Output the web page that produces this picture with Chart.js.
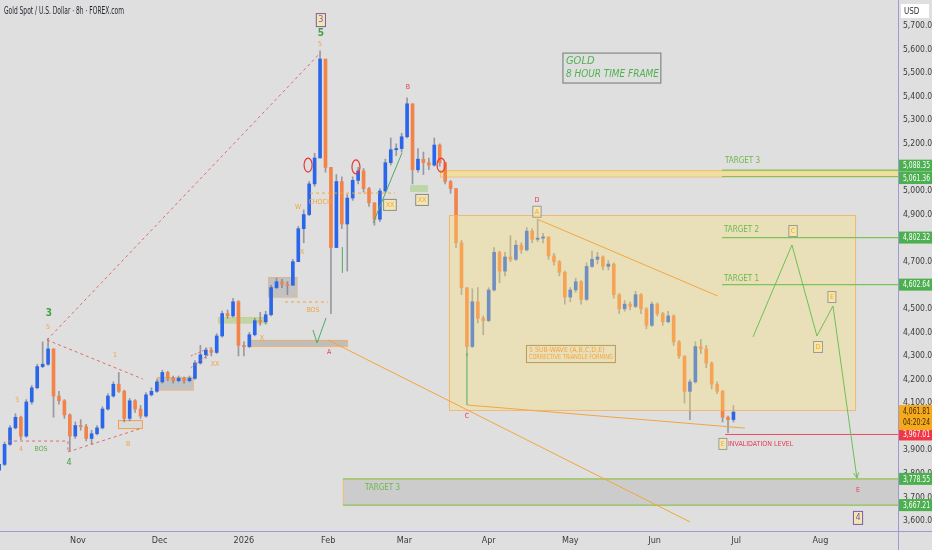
<!DOCTYPE html>
<html>
<head>
<meta charset="utf-8">
<script src="https://cdn.jsdelivr.net/npm/chart.js@4.4.1/dist/chart.umd.min.js"></script>
<style>
html, body { margin: 0; padding: 0; background: #dfdfdf; }
#wrap { width: 932px; height: 550px; }
</style>
</head>
<body>
<div id="wrap"><canvas id="gold" width="932" height="550"></canvas></div>
<script>
// Gold spot 8h. x = days since 1 Oct 2025, one candle per 2 days
const days = [2,4,6,8,10,12,14,16,18,20,22,24,26,28,30,32,34,36,38,40,42,44,46,48,50,52,54,56,58,60,
  62,64,66,68,70,72,74,76,78,80,82,84,86,88,90,92,94,96,98,100,102,104,106,108,110,112,114,116,118,120,
  122,124,126,128,130,132,134,136,138,140,142,144,146,148,150,152,154,156,158,160,162,164,166,168,170,172,174,176,178,180,
  182,184,186,188,190,192,194,196,198,200,202,204,206,208,210,212,214,216,218,220,222,224,226,228,230,232,234,236,238,240,
  242,244,246,248,250,252,254,256,258,260,262,264,266,268,270,272];
const firstOpen = 3815;
const closes = [3840,3925,3995,4040,3960,4105,4165,4255,4265,4330,4130,4110,4050,3960,4005,4000,3950,3970,3995,4075,
  4130,4180,4150,4035,4110,4075,4045,4135,4150,4190,4230,4205,4195,4205,4195,4205,4270,4305,4325,4315,
  4385,4480,4470,4530,4345,4340,4390,4450,4445,4475,4590,4615,4605,4600,4700,4840,4900,5030,5140,5560,
  5100,4760,5040,4860,4970,5045,5085,5010,4950,4880,5000,5120,5175,5180,5230,5370,5090,5135,5120,5110,
  5195,5120,5040,5010,4780,4590,4340,4530,4460,4450,4580,4740,4660,4720,4710,4770,4750,4830,4795,4800,
  4805,4725,4700,4655,4550,4580,4615,4540,4680,4710,4720,4680,4690,4560,4500,4520,4510,4560,4500,4430,
  4520,4480,4445,4470,4360,4300,4150,4190,4340,4330,4270,4180,4150,4040,4030,4062];
const highs = [3860,3935,4005,4055,4045,4115,4175,4265,4360,4375,4330,4150,4115,4055,4020,4030,4010,3985,4005,4085,
  4140,4190,4230,4155,4120,4115,4090,4145,4165,4200,4240,4235,4215,4215,4210,4215,4280,4345,4335,4335,
  4395,4490,4495,4545,4535,4360,4400,4460,4485,4490,4600,4630,4625,4615,4710,4850,4920,5040,5160,5595,
  5540,5100,5070,5060,4985,5060,5100,5095,5015,4950,5010,5135,5225,5200,5245,5395,5370,5180,5165,5140,
  5225,5200,5120,5045,5010,4790,4590,4585,4590,4470,4590,4760,4745,4740,4810,4790,4780,4845,4840,4880,
  4820,4805,4735,4705,4660,4590,4630,4620,4695,4745,4740,4725,4705,4695,4565,4535,4530,4575,4565,4505,
  4530,4525,4485,4490,4475,4365,4300,4200,4360,4370,4345,4275,4190,4155,4045,4090];
const lows = [3800,3835,3920,3990,3945,3955,4095,4160,4250,4260,4040,4095,4035,3895,3950,3985,3940,3925,3965,3990,
  4070,4125,4145,4020,4025,4060,4035,4040,4130,4145,4185,4195,4185,4190,4185,4190,4200,4265,4290,4300,
  4310,4380,4460,4465,4300,4300,4335,4385,4430,4435,4470,4585,4590,4560,4600,4700,4780,4895,5020,5140,
  5080,4480,4760,4840,4660,4960,5030,4995,4935,4855,4870,4995,5110,5150,5165,5225,5030,5080,5070,5090,
  5105,5105,5030,4990,4760,4560,4300,4335,4440,4390,4445,4575,4610,4640,4700,4705,4735,4745,4780,4785,
  4780,4710,4685,4640,4520,4530,4570,4520,4535,4675,4690,4665,4665,4545,4480,4490,4495,4505,4480,4415,
  4425,4470,4430,4440,4345,4290,4100,4030,4185,4310,4250,4160,4140,4020,3975,4020];

const monthTicks = [31, 61, 92, 123, 151, 182, 212, 243, 273, 304];
const monthLabels = ['Nov', 'Dec', '2026', 'Feb', 'Mar', 'Apr', 'May', 'Jun', 'Jul', 'Aug'];
const priceTicks = [3600,3700,3800,3900,4000,4100,4200,4300,4400,4500,4600,4700,4800,4900,5000,5100,5200,5300,5400,5500,5600,5700];

// price levels shown in the right scale
const levelPrices = [5088.35, 5061.36, 4802.32, 4602.64, 3967.01, 3778.55, 3667.21];
const lastPrice = 4061.81;
const countdown = '04:20:24';

const FONT = "'Liberation Sans Narrow', 'DejaVu Sans Condensed', 'Liberation Sans', sans-serif";
const UP = '#2a66ea', DOWN = '#f2844a', WICK = 'rgba(105,105,120,0.6)';
const ORANGE = '#f3a43e', RED = '#e53950', GREEN = '#6cbf55', PURPLE = '#7d5aa6';

const opens = closes.map((c, i) => i === 0 ? firstOpen : closes[i - 1]);
const colors = closes.map((c, i) => c >= opens[i] ? UP : DOWN);

// drawings, in chart units (day, price)
const zonesBelow = [
  [60.0, 4211, 73.3, 4156, 'rgba(140,140,140,0.35)', 'rgba(240,170,90,0.6)'],
  [45.7, 4028, 54.5, 3994, 'rgba(200,200,200,0.2)', '#f0a050'],
  [82.5, 4465, 100.5, 4440, 'rgba(160,205,120,0.55)', 'rgba(240,190,100,0.5)'],
  [100.9, 4635, 111.5, 4550, 'rgba(140,140,140,0.35)', 'rgba(240,170,90,0.5)'],
  [94.2, 4368, 129.9, 4342, 'rgba(150,150,150,0.45)', 'rgba(245,170,80,0.8)'],
  [153.1, 5025, 159.7, 4996, 'rgba(160,205,120,0.55)', null],
  [164.1, 5088.35, 345, 5061.36, 'rgba(255,220,110,0.55)', 'rgba(245,180,90,0.7)'],
  [128.4, 3778.55, 345, 3667.21, 'rgba(185,185,185,0.5)', 'rgba(245,190,100,0.8)']
];
const triangleBox = [167.4, 4898, 316.7, 4071, 'rgba(255,228,110,0.33)', 'rgba(245,175,90,0.8)'];

const lines = [
  { pts: [267.8, 5088.35, 345, 5088.35], color: '#7cc35a', width: 1.2 },
  { pts: [267.8, 5061.36, 345, 5061.36], color: '#7cc35a', width: 1.2 },
  { pts: [267.8, 4802.32, 345, 4802.32], color: '#7cc35a', width: 1.2 },
  { pts: [267.8, 4602.64, 345, 4602.64], color: '#7cc35a', width: 1.2 },
  { pts: [128.4, 3778.55, 345, 3778.55], color: '#8cc56a', width: 1.2 },
  { pts: [128.4, 3667.21, 345, 3667.21], color: '#8cc56a', width: 1.2 },
  { pts: [268.9, 3967.01, 345, 3967.01], color: '#f04a5a', width: 1 },
  { pts: [122.9, 4368, 256.0, 3596], color: ORANGE, width: 1 },
  { pts: [199.75, 4881, 266.3, 4554], color: ORANGE, width: 1 },
  { pts: [174.0, 4092, 276.2, 3994], color: ORANGE, width: 1 },
  { pts: [19.6, 4368, 120.0, 5585], color: '#e06a6a', width: 1, dash: [3, 3] },
  { pts: [19.6, 4368, 54.9, 4202], color: '#e06a6a', width: 1, dash: [3, 3] },
  { pts: [27.3, 3893, 54.5, 3994], color: '#e06a6a', width: 1, dash: [3, 3] },
  { pts: [5.3, 3939, 27.3, 3939, 27.3, 3893], color: '#e06a6a', width: 1, dash: [3, 3] },
  { pts: [72.5, 4300, 79.5, 4335], color: '#e06a6a', width: 1, dash: [2, 2] },
  { pts: [72.5, 4250, 79.5, 4310], color: '#e06a6a', width: 1, dash: [2, 2] },
  { pts: [107.1, 4529, 122.9, 4529], color: ORANGE, width: 1, dash: [3, 3] },
  { pts: [116.3, 4991, 147.5, 4991], color: ORANGE, width: 1, dash: [3, 3] },
  { pts: [139.5, 4864, 150.1, 5161], color: '#4fa86a', width: 1 },
  { pts: [117.4, 4410, 118.9, 4355, 122.2, 4461], color: '#4fa86a', width: 1 },
  { pts: [128.2, 4762, 128.2, 4652], color: '#4fa86a', width: 1 },
  { pts: [174.0, 4313, 174.0, 4092], color: '#4fa86a', width: 1 },
  { pts: [279.2, 4381, 293.5, 4771, 302.7, 4385, 308.6, 4512, 317.4, 3782], color: GREEN, width: 1, arrow: true }
];
const ellipses = [[115.6, 5110], [133.2, 5102], [164.5, 5110]];

const labels = [
  { t: '3', d: 120.3, p: 5725, color: PURPLE, size: 9, frame: PURPLE },
  { t: '5', d: 120.3, p: 5670, color: '#43a047', size: 10, bold: true },
  { t: '5', d: 120.0, p: 5624, color: ORANGE, size: 7 },
  { t: 'B', d: 152.3, p: 5441, color: RED, size: 7 },
  { t: 'A', d: 123.3, p: 4317, color: RED, size: 7 },
  { t: 'D', d: 199.75, p: 4962, color: RED, size: 7 },
  { t: 'A', d: 199.75, p: 4912, color: ORANGE, size: 7, frame: '#9a9a9a' },
  { t: 'C', d: 174.0, p: 4045, color: RED, size: 7 },
  { t: 'E', d: 317.8, p: 3731, color: RED, size: 7 },
  { t: '4', d: 317.8, p: 3613, color: PURPLE, size: 9, frame: PURPLE },
  { t: '3', d: 20.3, p: 4482, color: '#43a047', size: 10, bold: true },
  { t: '5', d: 20.0, p: 4423, color: ORANGE, size: 7 },
  { t: '3', d: 8.6, p: 4113, color: ORANGE, size: 7 },
  { t: '4', d: 10.0, p: 3905, color: ORANGE, size: 7 },
  { t: 'BOS', d: 17.4, p: 3905, color: '#6aa84f', size: 7 },
  { t: '4', d: 27.7, p: 3846, color: '#43a047', size: 9 },
  { t: '1', d: 44.6, p: 4304, color: ORANGE, size: 7 },
  { t: 'B', d: 49.4, p: 3927, color: ORANGE, size: 7 },
  { t: 'XX', d: 81.4, p: 4266, color: ORANGE, size: 7 },
  { t: 'X', d: 98.6, p: 4376, color: ORANGE, size: 7 },
  { t: 'BOS', d: 117.4, p: 4495, color: ORANGE, size: 7 },
  { t: 'CHOCH', d: 120.0, p: 4953, color: ORANGE, size: 7 },
  { t: 'W', d: 111.9, p: 4932, color: ORANGE, size: 7 },
  { t: 'X', d: 113.4, p: 4741, color: ORANGE, size: 7 },
  { t: 'XX', d: 145.7, p: 4941, color: ORANGE, size: 7, frame: '#8a8a8a' },
  { t: 'XX', d: 157.5, p: 4962, color: ORANGE, size: 7, frame: '#8a8a8a' },
  { t: 'C', d: 293.9, p: 4830, color: ORANGE, size: 7, frame: '#9a9a9a' },
  { t: 'D', d: 303.1, p: 4338, color: ORANGE, size: 7, frame: '#9a9a9a' },
  { t: 'E', d: 308.2, p: 4550, color: ORANGE, size: 7, frame: '#9a9a9a' },
  { t: 'E', d: 268.1, p: 3927, color: ORANGE, size: 7, frame: '#9a9a9a' },
  { t: 'INVALIDATION LEVEL', d: 270.0, p: 3927, color: RED, size: 7, align: 'left' },
  { t: 'TARGET 3', d: 268.9, p: 5127, color: '#6cb84a', size: 8, align: 'left' },
  { t: 'TARGET 2', d: 268.5, p: 4834, color: '#6cb84a', size: 8, align: 'left' },
  { t: 'TARGET 1', d: 268.5, p: 4627, color: '#6cb84a', size: 8, align: 'left' },
  { t: 'TARGET 3', d: 136.5, p: 3740, color: '#6cb84a', size: 8, align: 'left' }
];

function drawText(ctx, o, x, y) {
  ctx.font = (o.italic ? 'italic ' : '') + (o.bold ? 'bold ' : '') + o.size + 'px ' + FONT;
  ctx.textAlign = o.align || 'center';
  ctx.textBaseline = 'middle';
  const w = ctx.measureText(o.t).width;
  if (o.frame) {
    const bx = o.align === 'left' ? x - 2 : x - w / 2 - 2;
    ctx.fillStyle = 'rgba(255,236,150,0.6)';
    ctx.fillRect(bx, y - o.size / 2 - 2, w + 4, o.size + 4);
    ctx.strokeStyle = o.frame;
    ctx.lineWidth = 1;
    ctx.strokeRect(bx, y - o.size / 2 - 2, w + 4, o.size + 4);
  }
  ctx.fillStyle = o.color;
  ctx.fillText(o.t, x, y);
}

function drawZone(chart, z) {
  const { ctx, scales: { x, y } } = chart;
  const x1 = x.getPixelForValue(z[0]), y1 = y.getPixelForValue(z[1]);
  const x2 = x.getPixelForValue(z[2]), y2 = y.getPixelForValue(z[3]);
  ctx.fillStyle = z[4];
  ctx.fillRect(x1, y1, x2 - x1, y2 - y1);
  if (z[5]) {
    ctx.strokeStyle = z[5];
    ctx.lineWidth = 1;
    ctx.strokeRect(x1 + 0.5, y1 + 0.5, x2 - x1, y2 - y1);
  }
}

const overlay = {
  id: 'overlay',
  beforeDatasetsDraw(chart) {
    const { ctx, chartArea: a } = chart;
    ctx.save();
    ctx.beginPath(); ctx.rect(a.left, a.top, a.width, a.height); ctx.clip();
    zonesBelow.forEach(z => drawZone(chart, z));
    ctx.restore();
  },
  afterDatasetsDraw(chart) {
    const { ctx, chartArea: a, scales: { x, y } } = chart;
    ctx.save();
    ctx.beginPath(); ctx.rect(a.left, a.top, a.width, a.height); ctx.clip();
    drawZone(chart, triangleBox);

    lines.forEach(l => {
      ctx.strokeStyle = l.color;
      ctx.lineWidth = l.width;
      ctx.setLineDash(l.dash || []);
      ctx.beginPath();
      for (let i = 0; i < l.pts.length; i += 2) {
        const px = x.getPixelForValue(l.pts[i]), py = y.getPixelForValue(l.pts[i + 1]);
        if (i === 0) ctx.moveTo(px, py); else ctx.lineTo(px, py);
      }
      ctx.stroke();
      if (l.arrow) {
        const n = l.pts.length;
        const ex = x.getPixelForValue(l.pts[n - 2]), ey = y.getPixelForValue(l.pts[n - 1]);
        const sx = x.getPixelForValue(l.pts[n - 4]), sy = y.getPixelForValue(l.pts[n - 3]);
        const ang = Math.atan2(ey - sy, ex - sx);
        ctx.setLineDash([]);
        ctx.beginPath();
        ctx.moveTo(ex - 6 * Math.cos(ang - 0.45), ey - 6 * Math.sin(ang - 0.45));
        ctx.lineTo(ex, ey);
        ctx.lineTo(ex - 6 * Math.cos(ang + 0.45), ey - 6 * Math.sin(ang + 0.45));
        ctx.stroke();
      }
    });
    ctx.setLineDash([]);

    ctx.strokeStyle = '#e53935';
    ctx.lineWidth = 1.2;
    ellipses.forEach(e => {
      ctx.beginPath();
      ctx.ellipse(x.getPixelForValue(e[0]), y.getPixelForValue(e[1]), 4, 7, 0, 0, Math.PI * 2);
      ctx.stroke();
    });

    labels.forEach(o => drawText(ctx, o, x.getPixelForValue(o.d), y.getPixelForValue(o.p)));

    // note box inside the triangle
    const nx1 = x.getPixelForValue(195.7), nx2 = x.getPixelForValue(228.4);
    const ny1 = y.getPixelForValue(4347), ny2 = y.getPixelForValue(4274);
    ctx.strokeStyle = '#b59a55';
    ctx.lineWidth = 1;
    ctx.strokeRect(nx1 + 0.5, ny1 + 0.5, nx2 - nx1, ny2 - ny1);
    ctx.fillStyle = ORANGE;
    ctx.font = '7px ' + FONT;
    ctx.textAlign = 'left';
    ctx.textBaseline = 'middle';
    ctx.fillText('5 SUB-WAVE (A,B,C,D,E)', nx1 + 3, ny1 + 5);
    ctx.fillText('CORRECTIVE TRIANGLE FORMING', nx1 + 3, ny1 + 12, nx2 - nx1 - 5);

    // GOLD title box
    const gx1 = x.getPixelForValue(209.3), gx2 = x.getPixelForValue(245.3);
    const gy1 = y.getPixelForValue(5585), gy2 = y.getPixelForValue(5458);
    ctx.strokeStyle = '#7f8a80';
    ctx.lineWidth = 1.2;
    ctx.strokeRect(gx1, gy1, gx2 - gx1, gy2 - gy1);
    ctx.fillStyle = '#4fb24f';
    ctx.font = 'italic 11px ' + FONT;
    ctx.fillText('GOLD', gx1 + 3, gy1 + 8);
    ctx.fillText('8 HOUR TIME FRAME', gx1 + 3, gy1 + 21, gx2 - gx1 - 5);
    ctx.restore();
  },
  afterDraw(chart) {
    const { ctx, chartArea: a, scales: { y } } = chart;
    ctx.save();
    ctx.strokeStyle = '#9d9bd0';
    ctx.lineWidth = 1;
    ctx.beginPath();
    ctx.moveTo(a.right + 0.5, 0); ctx.lineTo(a.right + 0.5, chart.height);
    ctx.moveTo(0, a.bottom + 0.5); ctx.lineTo(chart.width, a.bottom + 0.5);
    ctx.stroke();

    // title
    ctx.fillStyle = '#1e222d';
    ctx.font = '10px ' + FONT;
    ctx.textAlign = 'left';
    ctx.textBaseline = 'middle';
    ctx.fillText('Gold Spot / U.S. Dollar · 8h · FOREX.com', 4, 11, 120);

    // USD box
    ctx.fillStyle = '#ffffff';
    ctx.fillRect(a.right + 3, 4, 28, 14);
    ctx.fillStyle = '#333';
    ctx.font = '8px ' + FONT;
    ctx.fillText('USD', a.right + 6, 11.5);

    // price tags
    const tag = (txt, py, bg, fg) => {
      ctx.fillStyle = bg;
      ctx.fillRect(a.right + 1, py - 6, 33, 12);
      ctx.fillStyle = fg;
      ctx.font = '8.5px ' + FONT;
      ctx.textAlign = 'left';
      ctx.fillText(txt, a.right + 5, py + 0.5, 27);
    };
    const fmt = v => v.toLocaleString('en-US', { minimumFractionDigits: 2, maximumFractionDigits: 2 });
    const nudge = [-4.5, 1.5, 0, 0, 0, 0, 0];
    levelPrices.forEach((p, i) => {
      tag(fmt(p), y.getPixelForValue(p) + nudge[i], p === 3967.01 ? '#f23645' : '#4caf50', '#ffffff');
    });
    const ly = y.getPixelForValue(lastPrice);
    ctx.fillStyle = '#f7a91e';
    ctx.fillRect(a.right + 1, ly - 7, 33, 25);
    ctx.fillStyle = '#3b2a05';
    ctx.font = '8.5px ' + FONT;
    ctx.fillText(fmt(lastPrice), a.right + 5, ly, 27);
    ctx.fillText(countdown, a.right + 5, ly + 11, 27);
    ctx.restore();
  }
};

const ctx = document.getElementById('gold').getContext('2d');
const chart = new Chart(ctx, {
  type: 'bar',
  data: {
    datasets: [
      {
        data: days.map((d, i) => ({ x: d, y: [lows[i], highs[i]] })),
        backgroundColor: WICK,
        barThickness: 1,
        grouped: false,
        order: 2
      },
      {
        data: days.map((d, i) => ({ x: d, y: [opens[i], closes[i]] })),
        backgroundColor: colors,
        barThickness: 3,
        minBarLength: 1,
        grouped: false,
        order: 1
      }
    ]
  },
  options: {
    responsive: false,
    animation: false,
    layout: { padding: 0 },
    plugins: { legend: { display: false }, tooltip: { enabled: false } },
    scales: {
      x: {
        type: 'linear',
        min: 2.32,
        max: 332.5,
        offset: false,
        grid: { display: false, drawTicks: false },
        border: { display: false },
        afterBuildTicks: s => { s.ticks = monthTicks.map(v => ({ value: v })); },
        afterFit: s => { s.height = 19; s.paddingLeft = 0; s.paddingRight = 0; },
        ticks: {
          autoSkip: false,
          maxRotation: 0,
          padding: 4,
          color: '#3a3a3a',
          font: { family: FONT, size: 9 },
          callback: v => monthLabels[monthTicks.indexOf(v)]
        }
      },
      y: {
        position: 'right',
        min: 3557.4,
        max: 5810.3,
        grid: { display: false, drawTicks: false },
        border: { display: false },
        afterBuildTicks: s => { s.ticks = priceTicks.map(v => ({ value: v })); },
        afterFit: s => { s.width = 34; s.paddingTop = 0; s.paddingBottom = 0; },
        ticks: {
          padding: 5,
          color: '#3a3a3a',
          font: { family: FONT, size: 8.5 },
          callback: v => v.toLocaleString('en-US', { minimumFractionDigits: 2 })
        }
      }
    }
  },
  plugins: [overlay]
});
</script>
</body>
</html>
